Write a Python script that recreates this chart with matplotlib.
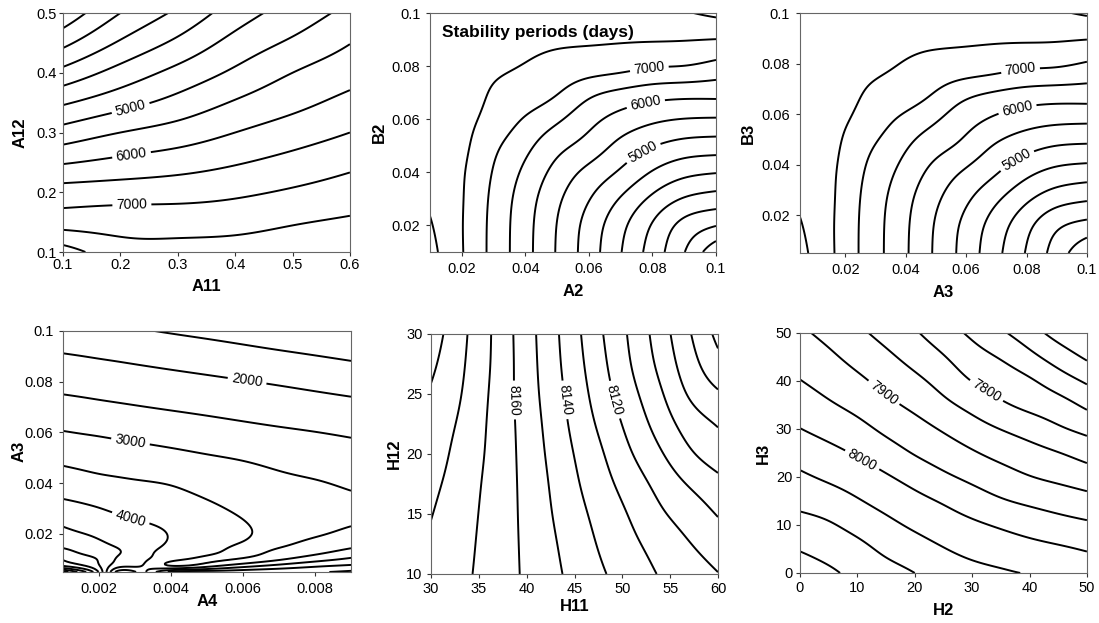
import numpy as np
import matplotlib
matplotlib.use('Agg')
import matplotlib.pyplot as plt

plt.rcParams['font.family'] = ['Liberation Sans', 'DejaVu Sans']

# ---- panel 1 : A11 / A12 ----
a11 = [0.1, 0.2, 0.3, 0.4, 0.5, 0.6]
a12 = [0.1, 0.15, 0.2, 0.25, 0.3, 0.35, 0.4, 0.45, 0.5]
days_a11_a12 = [
    [8250, 7720, 7690, 7726, 7800, 7850],
    [7290, 7280, 7275, 7323, 7460, 7568],
    [6706, 6763, 6811, 6909, 7063, 7230],
    [5955, 6125, 6266, 6455, 6661, 6879],
    [5197, 5500, 5722, 6000, 6250, 6500],
    [4437, 4812, 5167, 5545, 5857, 6143],
    [3656, 4188, 4650, 5091, 5500, 5808],
    [2868, 3562, 4111, 4667, 5083, 5486],
    [2130, 3000, 3600, 4250, 4714, 5139],
]

# ---- panel 2 : A2 / B2 ----
a2 = [0.01, 0.02, 0.03, 0.04, 0.05, 0.06, 0.07, 0.08, 0.09, 0.1]
b2 = [0.01, 0.02, 0.03, 0.04, 0.05, 0.06, 0.07, 0.08, 0.09, 0.1]
days_a2_b2 = [
    [8150, 7530, 6847, 6167, 5458, 4754, 4022, 3284, 2516, 1620],
    [8040, 7520, 6852, 6180, 5486, 4815, 4140, 3460, 2839, 2516],
    [7930, 7530, 6884, 6243, 5598, 5024, 4463, 3897, 3460, 3284],
    [7850, 7550, 6967, 6396, 5828, 5357, 4928, 4463, 4140, 4022],
    [7800, 7600, 7117, 6633, 6160, 5800, 5357, 5024, 4815, 4754],
    [7780, 7620, 7344, 6953, 6580, 6160, 5828, 5598, 5486, 5458],
    [7770, 7640, 7470, 7300, 7030, 6633, 6396, 6243, 6180, 6167],
    [7760, 7650, 7560, 7480, 7340, 7255, 7170, 7040, 6990, 6847],
    [7760, 7720, 7680, 7630, 7580, 7550, 7535, 7530, 7520, 7490],
    [7780, 7770, 7760, 7760, 7770, 7780, 7800, 7850, 7960, 8100],
]

# ---- panel 3 : A3 / B3 ----
a3 = [0.005, 0.0156, 0.0261, 0.0367, 0.0472, 0.0578, 0.0683, 0.0789, 0.0894, 0.1]
b3 = [0.005, 0.0156, 0.0261, 0.0367, 0.0472, 0.0578, 0.0683, 0.0789, 0.0894, 0.1]
days_a3_b3 = [
    [8150, 7550, 6895, 6266, 5600, 4932, 4245, 3537, 2817, 2070],
    [8040, 7540, 6899, 6278, 5626, 4989, 4356, 3708, 3105, 2817],
    [7930, 7550, 6928, 6336, 5733, 5188, 4659, 4128, 3708, 3537],
    [7850, 7565, 7005, 6478, 5952, 5504, 5097, 4659, 4356, 4245],
    [7800, 7600, 7150, 6696, 6260, 5925, 5504, 5188, 4989, 4932],
    [7780, 7620, 7372, 6992, 6647, 6260, 5952, 5733, 5626, 5600],
    [7770, 7640, 7496, 7329, 7065, 6696, 6478, 6336, 6278, 6266],
    [7760, 7650, 7570, 7500, 7368, 7285, 7202, 7075, 7026, 6895],
    [7760, 7720, 7680, 7630, 7585, 7555, 7540, 7540, 7535, 7495],
    [7780, 7770, 7760, 7760, 7770, 7780, 7800, 7850, 7940, 8060],
]

# ---- panel 4 : A4 / A3 ----
a4 = [0.001, 0.0015, 0.002, 0.0025, 0.003, 0.004, 0.005, 0.006, 0.007, 0.008, 0.009]
a3_b = [0.005, 0.0075, 0.01, 0.0125, 0.015, 0.02, 0.03, 0.04, 0.05, 0.06, 0.07, 0.08, 0.09, 0.1]
days_a4_a3 = [
    [7800, 6800, 5450, 3350, 3450, 5100, 5300, 5350, 5400, 5450, 5600],
    [5942, 5583, 5030, 4227, 4080, 3480, 3786, 4273, 4625, 4895, 5056],
    [5477, 5238, 4950, 4455, 4200, 3650, 3420, 3568, 3938, 4300, 4593],
    [5193, 4971, 4760, 4550, 4280, 3800, 3570, 3400, 3625, 3915, 4214],
    [4951, 4824, 4630, 4481, 4300, 3900, 3640, 3450, 3477, 3703, 3939],
    [4646, 4529, 4402, 4292, 4200, 3970, 3700, 3540, 3400, 3447, 3634],
    [4161, 4087, 4012, 3922, 3848, 3720, 3580, 3413, 3246, 3242, 3227],
    [3758, 3697, 3633, 3584, 3545, 3476, 3338, 3196, 3092, 3037, 2919],
    [3384, 3332, 3283, 3247, 3211, 3136, 3044, 2968, 2877, 2778, 2689],
    [3022, 2983, 2947, 2906, 2869, 2795, 2717, 2643, 2571, 2508, 2444],
    [2669, 2633, 2595, 2559, 2524, 2457, 2393, 2328, 2264, 2201, 2136],
    [2342, 2311, 2279, 2247, 2216, 2152, 2088, 2021, 1950, 1874, 1797],
    [2039, 2006, 1970, 1935, 1897, 1821, 1746, 1668, 1590, 1514, 1435],
    [1696, 1657, 1620, 1581, 1543, 1464, 1389, 1311, 1230, 1155, 1072],
]

# ---- panel 5 : H11 / H12 ----
h11 = [30, 33, 36, 39, 42, 45, 48, 51, 54, 57, 60]
h12 = [10, 12.5, 15, 17.5, 20, 22.5, 25, 27.5, 30]
days_h11_h12 = [
    [8177.0, 8172.3, 8166.9, 8160.6, 8153.9, 8147.2, 8140.7, 8134.8, 8129.3, 8124.8, 8120.3],
    [8178.6, 8173.2, 8167.2, 8160.4, 8153.0, 8145.5, 8138.3, 8131.9, 8126.0, 8120.4, 8115.2],
    [8180.4, 8174.2, 8167.6, 8160.2, 8151.9, 8143.6, 8136.0, 8128.8, 8121.4, 8115.4, 8109.4],
    [8182.6, 8175.5, 8168.1, 8160.0, 8150.9, 8141.6, 8133.2, 8124.9, 8116.7, 8109.2, 8103.0],
    [8185.0, 8177.0, 8168.8, 8159.7, 8149.7, 8139.7, 8130.3, 8120.3, 8111.0, 8101.6, 8095.0],
    [8186.3, 8178.8, 8169.3, 8159.3, 8148.5, 8137.6, 8127.0, 8116.2, 8105.7, 8095.5, 8089.3],
    [8188.9, 8180.6, 8170.0, 8158.8, 8147.3, 8135.8, 8124.0, 8112.6, 8101.2, 8089.0, 8081.3],
    [8192.0, 8182.0, 8170.8, 8158.6, 8146.4, 8134.2, 8121.7, 8109.6, 8097.3, 8084.2, 8073.3],
    [8195.2, 8183.2, 8171.2, 8158.3, 8145.8, 8133.0, 8120.0, 8107.9, 8094.8, 8080.9, 8067.3],
]

# ---- panel 6 : H2 / H3 ----
h2 = [0, 5, 10, 15, 20, 25, 30, 35, 40, 45, 50]
h3 = [0, 5, 10, 15, 20, 25, 30, 35, 40, 45, 50]
days_h2_h3 = [
    [8177, 8158.5, 8137, 8118.5, 8100, 8079, 8065, 8056, 8048, 8045, 8034],
    [8147, 8132, 8114, 8090, 8071, 8052, 8037, 8026, 8016, 8007, 7996],
    [8117, 8105, 8084, 8062, 8042, 8024, 8008.5, 7994, 7980, 7968, 7958],
    [8087, 8074, 8054, 8034, 8014, 7995, 7974, 7955, 7941, 7929, 7917],
    [8058, 8042, 8025, 8005, 7982, 7959, 7939, 7920, 7902, 7889, 7875],
    [8030, 8013, 7995, 7972, 7947, 7926, 7905, 7885, 7868, 7851.5, 7831.6],
    [8001, 7984, 7965, 7940, 7918, 7895, 7871, 7849, 7829, 7807, 7787],
    [7976, 7956, 7936, 7911.5, 7889, 7862, 7835, 7808, 7788, 7769, 7740.6],
    [7951.5, 7932, 7910, 7885, 7861, 7832, 7799, 7776.5, 7756, 7725, 7693],
    [7930, 7909, 7884, 7859.6, 7833, 7803, 7770, 7746, 7714, 7677, 7643],
    [7908.5, 7886, 7860, 7834.5, 7805.5, 7772, 7741, 7708, 7671, 7632, 7605],
]


def spline_weights(xs, xf):
    # natural cubic spline as a matrix: f(xf) = W @ f(xs)
    xs = np.asarray(xs, float)
    n = len(xs)
    h = np.diff(xs)
    A = np.zeros((n, n))
    A[0, 0] = A[-1, -1] = 1
    B = np.zeros((n, n))
    for i in range(1, n - 1):
        A[i, i - 1] = h[i - 1]
        A[i, i] = 2 * (h[i - 1] + h[i])
        A[i, i + 1] = h[i]
        B[i, i - 1] = 6 / h[i - 1]
        B[i, i] = -6 / h[i - 1] - 6 / h[i]
        B[i, i + 1] = 6 / h[i]
    M = np.linalg.solve(A, B)
    k = np.clip(np.searchsorted(xs, xf) - 1, 0, n - 2)
    hk = h[k]
    a = (xs[k + 1] - xf) / hk
    b = (xf - xs[k]) / hk
    W = np.zeros((len(xf), n))
    rows = np.arange(len(xf))
    W[rows, k] += a
    W[rows, k + 1] += b
    W += (((a ** 3 - a) * hk ** 2 / 6)[:, None] * M[k]
          + ((b ** 3 - b) * hk ** 2 / 6)[:, None] * M[k + 1])
    return W


def fine_field(xs, ys, z, n=260):
    xf = np.linspace(xs[0], xs[-1], n)
    yf = np.linspace(ys[0], ys[-1], n)
    zf = spline_weights(ys, yf) @ np.asarray(z, float) @ spline_weights(xs, xf).T
    return xf, yf, zf


fig = plt.figure(figsize=(10.99, 6.23), dpi=100)

panels = [
    # rect, x, y, z, levels, xticks, yticks, xlabel, ylabel, labelled levels, label spots,
    # xlabel y, ylabel x, tick pad
    ([0.0573, 0.5955, 0.2611, 0.3836], a11, a12, days_a11_a12, np.arange(2500, 8001, 500),
     [0.1, 0.2, 0.3, 0.4, 0.5, 0.6], [0.1, 0.2, 0.3, 0.4, 0.5], 'A11', 'A12',
     [5000, 6000, 7000], [(0.22, 0.333), (0.22, 0.259), (0.22, 0.182)], -0.115, -0.125, 1.5),
    ([0.3913, 0.5955, 0.2602, 0.3836], a2, b2, days_a2_b2, np.arange(2000, 8001, 500),
     [0.02, 0.04, 0.06, 0.08, 0.1], [0.02, 0.04, 0.06, 0.08, 0.1], 'A2', 'B2',
     [5000, 6000, 7000], [(0.079, 0.0433), (0.079, 0.0591), (0.079, 0.0792)], -0.135, -0.152, 4),
    ([0.7279, 0.5939, 0.2611, 0.3852], a3, b3, days_a3_b3, np.arange(2500, 8001, 500),
     [0.02, 0.04, 0.06, 0.08, 0.1], [0.02, 0.04, 0.06, 0.08, 0.1], 'A3', 'B3',
     [5000, 6000, 7000], [(0.078, 0.0393), (0.078, 0.0565), (0.078, 0.0776)], -0.135, -0.152, 4),
    ([0.0573, 0.0819, 0.2621, 0.3868], a4, a3_b, days_a4_a3, np.arange(1500, 7501, 500),
     [0.002, 0.004, 0.006, 0.008], [0.02, 0.04, 0.06, 0.08, 0.1], 'A4', 'A3',
     [2000, 3000, 4000], [(0.0061, 0.0791), (0.00287, 0.056), (0.00287, 0.0257)], -0.09, -0.125, 4),
    ([0.3922, 0.0787, 0.2611, 0.3852], h11, h12, days_h11_h12, np.arange(8070, 8191, 10),
     [30, 35, 40, 45, 50, 55, 60], [10, 15, 20, 25, 30], 'H11', 'H12',
     [8120, 8140, 8160], [(49.1, 24.5), (43.9, 24.5), (38.8, 24.5)], -0.105, -0.1, 3),
    ([0.7279, 0.0803, 0.2611, 0.3852], h2, h3, days_h2_h3, np.arange(7650, 8151, 50),
     [0, 10, 20, 30, 40, 50], [0, 10, 20, 30, 40, 50], 'H2', 'H3',
     [7800, 7900, 8000], [(32.2, 37.4), (14.5, 37.4), (11.0, 23.9)], -0.125, -0.103, 2.5),
]

axes = []
for (rect, xs, ys, z, levels, xt, yt, xl, yl, lab_lv, lab_xy, xly, ylx, pad) in panels:
    ax = fig.add_axes(rect)
    xf, yf, zf = fine_field(xs, ys, z)
    plain = [lv for lv in levels if lv not in lab_lv]
    ax.contour(xf, yf, zf, levels=plain, colors='black', linewidths=1.4)
    cs = ax.contour(xf, yf, zf, levels=lab_lv, colors='black', linewidths=1.4)
    ax.clabel(cs, manual=lab_xy, inline=True, fmt='%d', fontsize=10, inline_spacing=4)
    ax.set_xlim(xs[0], xs[-1])
    ax.set_ylim(ys[0], ys[-1])
    ax.set_xticks(xt, [f'{t:g}' for t in xt])
    ax.set_yticks(yt, [f'{t:g}' for t in yt])
    ax.tick_params(direction='out', length=3, width=0.8, labelsize=10.5, pad=pad, color='#333333')
    for sp in ax.spines.values():
        sp.set_color('#666666')
        sp.set_linewidth(0.8)
    ax.set_xlabel(xl, fontsize=12, fontweight='bold')
    ax.set_ylabel(yl, fontsize=12, fontweight='bold')
    ax.xaxis.set_label_coords(0.5, xly)
    ax.yaxis.set_label_coords(ylx, 0.5)
    axes.append(ax)

axes[1].text(0.042, 0.92, 'Stability periods (days)', transform=axes[1].transAxes,
             fontsize=12.5, fontweight='bold', ha='left', va='center')

fig.savefig('out.png', dpi=100)
